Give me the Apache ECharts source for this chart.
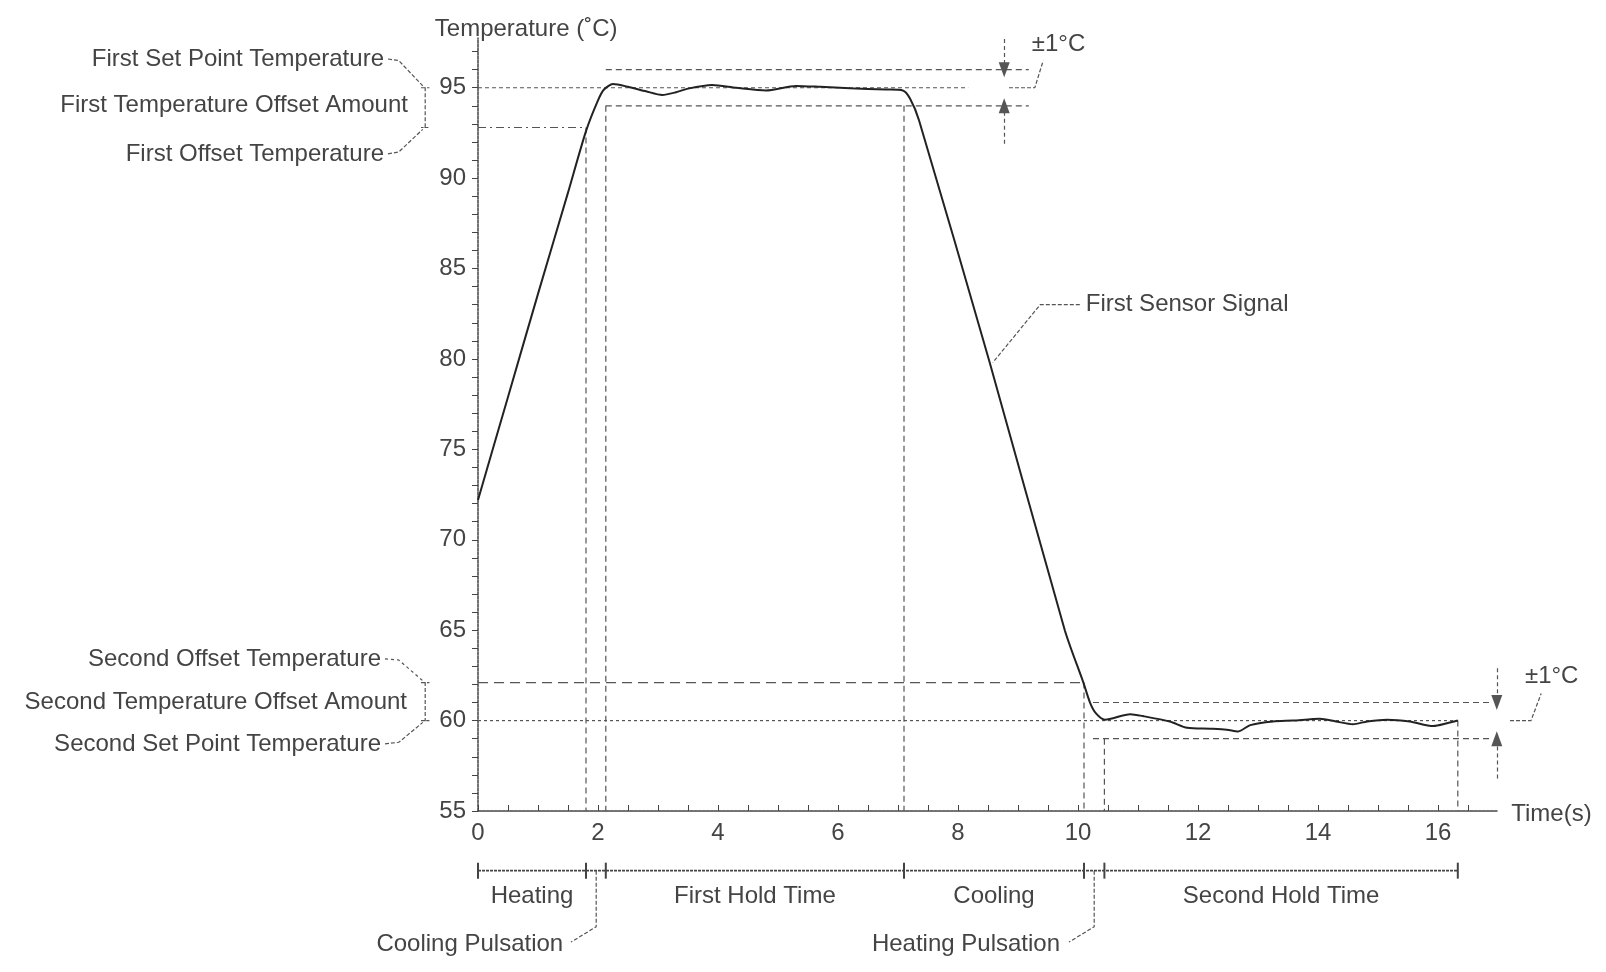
<!DOCTYPE html>
<html><head><meta charset="utf-8">
<script src="https://cdn.jsdelivr.net/npm/echarts@6/dist/echarts.min.js"></script>
<style>html,body{margin:0;padding:0;background:#fff}#c{width:1606px;height:972px}</style>
</head><body><div id="c"></div>
<script>
// ---------- data ----------
const timeS = [0, 0.5, 1.0, 1.5, 1.8, 2.0, 2.1, 2.25, 2.5, 2.8, 3.07, 3.3, 3.5, 3.9, 4.3, 4.8, 5.3, 5.7, 6.2, 6.8, 7.08, 7.2, 7.35, 8.52, 9.78, 10.09, 10.2, 10.3, 10.45, 10.87, 11.08, 11.53, 11.82, 12.2, 12.48, 12.67, 12.87, 13.25, 13.58, 14.03, 14.3, 14.58, 14.82, 15.15, 15.53, 15.92, 16.15, 16.33];
const sensorTemp = [72.2, 77.9, 83.6, 89.2, 92.6, 94.3, 94.9, 95.2, 95.05, 94.8, 94.6, 94.75, 94.95, 95.15, 95.0, 94.85, 95.1, 95.05, 94.97, 94.9, 94.85, 94.4, 93.2, 79.9, 65.0, 62.1, 61.0, 60.4, 60.05, 60.35, 60.25, 59.95, 59.6, 59.55, 59.5, 59.4, 59.75, 59.95, 60.0, 60.1, 59.95, 59.8, 59.95, 60.05, 59.95, 59.7, 59.85, 60.0];
const xTickLabels = [0, 2, 4, 6, 8, 10, 12, 14, 16];
const yTickLabels = [55, 60, 65, 70, 75, 80, 85, 90, 95];
const setPoint1 = 95, offsetTemp1 = 92.8, tolUpper1 = 96, tolLower1 = 94;
const setPoint2 = 60, offsetTemp2 = 62.1, tolUpper2 = 61, tolLower2 = 59;
const phaseBounds = [0, 1.8, 2.13, 7.1, 10.1, 10.44, 16.33];
const phaseNames = ['Heating', 'First Hold Time', 'Cooling', 'Second Hold Time'];
const phaseSegments = [[0, 1.8], [2.13, 7.1], [7.1, 10.1], [10.44, 16.33]];

// ---------- helpers ----------
const INK = '#444', LINE = '#555';
const FONT = '24px "Liberation Sans", Arial, sans-serif';
function seg(points, type, width, color) {
  return { type: 'line', data: points, symbol: 'none', clip: false, silent: true, animation: false,
    lineStyle: { type: type, width: width || 1.2, color: color || LINE }, z: 2 };
}
const yMinor = []; for (let v = 55; v <= 97; v++) yMinor.push(v);
const xMinor = []; for (let t = 0; t <= 16.5; t += 0.5) xMinor.push(t);
const BAR = 51.7; // level of the phase bar below the axis

const series = [];
// sensor signal
series.push({ type: 'line', data: timeS.map((t, i) => [t, sensorTemp[i]]), symbol: 'none', smooth: 0.25,
  clip: false, silent: true, animation: false, lineStyle: { color: '#222', width: 2 }, z: 5 });
// first set point / offset / tolerance lines
series.push(seg([[0, setPoint1], [8.17, setPoint1]], [4, 3]));
series.push(seg([[8.85, setPoint1], [9.28, setPoint1], [9.42, 96.5]], [4, 2]));
series.push(seg([[2.13, tolUpper1], [9.18, tolUpper1]], [6, 4]));
series.push(seg([[2.13, tolLower1], [9.18, tolLower1]], [6, 4]));
series.push(seg([[0, offsetTemp1], [1.8, offsetTemp1]], [8, 4, 2, 4]));
series.push(seg([[1.8, offsetTemp1], [1.8, 55]], [6, 4]));
series.push(seg([[2.13, tolLower1], [2.13, 55]], [6, 4]));
series.push(seg([[7.1, tolLower1], [7.1, 55]], [6, 4]));
// second set point / offset / tolerance lines
series.push(seg([[0, offsetTemp2], [10.1, offsetTemp2]], [10, 6]));
series.push(seg([[10.1, offsetTemp2], [10.1, 55]], [6, 4]));
series.push(seg([[0, setPoint2], [16.33, setPoint2]], [3, 3]));
series.push(seg([[10.25, tolUpper2], [16.85, tolUpper2]], [6, 4]));
series.push(seg([[10.25, tolLower2], [16.85, tolLower2]], [6, 4]));
series.push(seg([[10.44, tolLower2], [10.44, 55]], [6, 4]));
series.push(seg([[16.33, setPoint2], [16.33, 55]], [6, 4]));
// sensor signal leader
series.push(seg([[10.03, 83.0], [9.37, 83.0], [8.58, 79.8]], [4, 2]));
// phase bar with boundary ticks
series.push({ type: 'line', data: phaseBounds.map(t => [t, BAR]), symbol: 'rect', symbolSize: [2, 16], showSymbol: true,
  clip: false, silent: true, animation: false, itemStyle: { color: INK }, lineStyle: { color: INK, width: 1.6, type: [3, 1] }, z: 3 });
// pulsation leaders
series.push(seg([[1.97, BAR], [1.97, 48.6], [1.55, 47.75]], [4, 2]));
series.push(seg([[10.27, BAR], [10.27, 48.6], [9.85, 47.75]], [4, 2]));
// ±1°C arrows
series.push({ type: 'line', data: [], silent: true, animation: false,
  markLine: { silent: true, animation: false, symbol: ['none', 'triangle'], symbolSize: [11, 15],
    lineStyle: { type: [4, 3], color: LINE, width: 1.2 }, itemStyle: { color: LINE }, label: { show: false },
    data: [
      [{ coord: [8.77, 97.7] }, { coord: [8.77, tolUpper1] }],
      [{ coord: [8.77, 91.9] }, { coord: [8.77, tolLower1] }],
      [{ coord: [16.98, 62.9] }, { coord: [16.98, tolUpper2] }],
      [{ coord: [16.98, 56.8] }, { coord: [16.98, tolLower2] }]
    ] } });

const chart = echarts.init(document.getElementById('c'), null, { renderer: 'canvas' });
chart.setOption({
  animation: false,
  backgroundColor: '#fff',
  grid: { left: 478, top: 38, right: 108, bottom: 161, containLabel: false },
  xAxis: { type: 'value', min: 0, max: 17,
    axisLine: { lineStyle: { color: INK, width: 1.5, type: [3, 1] } },
    axisTick: { inside: true, length: 6, customValues: xMinor, lineStyle: { color: INK } },
    axisLabel: { customValues: xTickLabels, color: INK, fontSize: 24, fontFamily: 'Liberation Sans', margin: 10 },
    splitLine: { show: false } },
  yAxis: { type: 'value', min: 55, max: 97.75,
    axisLine: { show: true, lineStyle: { color: INK, width: 1.5, type: [3, 1] } },
    axisTick: { show: true, length: 6, customValues: yMinor, lineStyle: { color: INK } },
    axisLabel: { customValues: yTickLabels, color: INK, fontSize: 24, fontFamily: 'Liberation Sans', margin: 12 },
    splitLine: { show: false } },
  series: series
});

const P = (t, v) => chart.convertToPixel({ gridIndex: 0 }, [t, v]);
function txt(text, t, v, align) {
  const p = P(t, v);
  return { type: 'text', x: p[0], y: p[1], silent: true, z: 10,
    style: { text: text, font: FONT, fill: INK, align: align || 'left', verticalAlign: 'middle',
      textAlign: align || 'left', textVerticalAlign: 'middle' } };
}
function poly(points, dash) {
  return { type: 'polyline', silent: true, z: 10,
    shape: { points: points.map(q => P(q[0], q[1])) },
    style: { stroke: LINE, lineWidth: 1.2, fill: null, lineDash: dash || [4, 2] } };
}
const g = [
  txt('Temperature (˚C)', -0.72, 98.25, 'left'),
  txt('Time(s)', 17.22, 54.83, 'left'),
  txt('First Set Point Temperature', -1.567, 96.59, 'right'),
  txt('First Temperature Offset Amount', -1.167, 94.05, 'right'),
  txt('First Offset Temperature', -1.567, 91.34, 'right'),
  txt('Second Offset Temperature', -1.617, 63.41, 'right'),
  txt('Second Temperature Offset Amount', -1.183, 61.03, 'right'),
  txt('Second Set Point Temperature', -1.617, 58.71, 'right'),
  txt('±1°C', 9.23, 97.37, 'left'),
  txt('±1°C', 17.45, 62.47, 'left'),
  txt('First Sensor Signal', 10.13, 83.0, 'left'),
  txt('Cooling Pulsation', 1.42, 47.6, 'right'),
  txt('Heating Pulsation', 9.7, 47.6, 'right'),
  // brackets on the left
  poly([[-0.95, setPoint1], [-0.81, setPoint1], [-0.88, setPoint1], [-0.88, offsetTemp1], [-0.95, offsetTemp1], [-0.81, offsetTemp1]]),
  poly([[-0.95, offsetTemp2], [-0.81, offsetTemp2], [-0.88, offsetTemp2], [-0.88, setPoint2], [-0.95, setPoint2], [-0.81, setPoint2]]),
  // left leaders
  poly([[-1.5, 96.59], [-1.32, 96.5], [-0.92, 95.1]]),
  poly([[-1.5, 91.34], [-1.32, 91.45], [-0.92, 92.7]]),
  poly([[-1.55, 63.41], [-1.32, 63.35], [-0.92, 62.2]], [3, 3]),
  poly([[-1.55, 58.71], [-1.32, 58.8], [-0.92, 59.9]]),
  // right ±1°C leader for the second hold
  poly([[17.2, setPoint2], [17.55, setPoint2], [17.72, 61.5]])
];
phaseNames.forEach((n, i) => g.push(txt(n, (phaseSegments[i][0] + phaseSegments[i][1]) / 2, 50.3, 'center')));
chart.setOption({ graphic: { elements: g } });
</script></body></html>
